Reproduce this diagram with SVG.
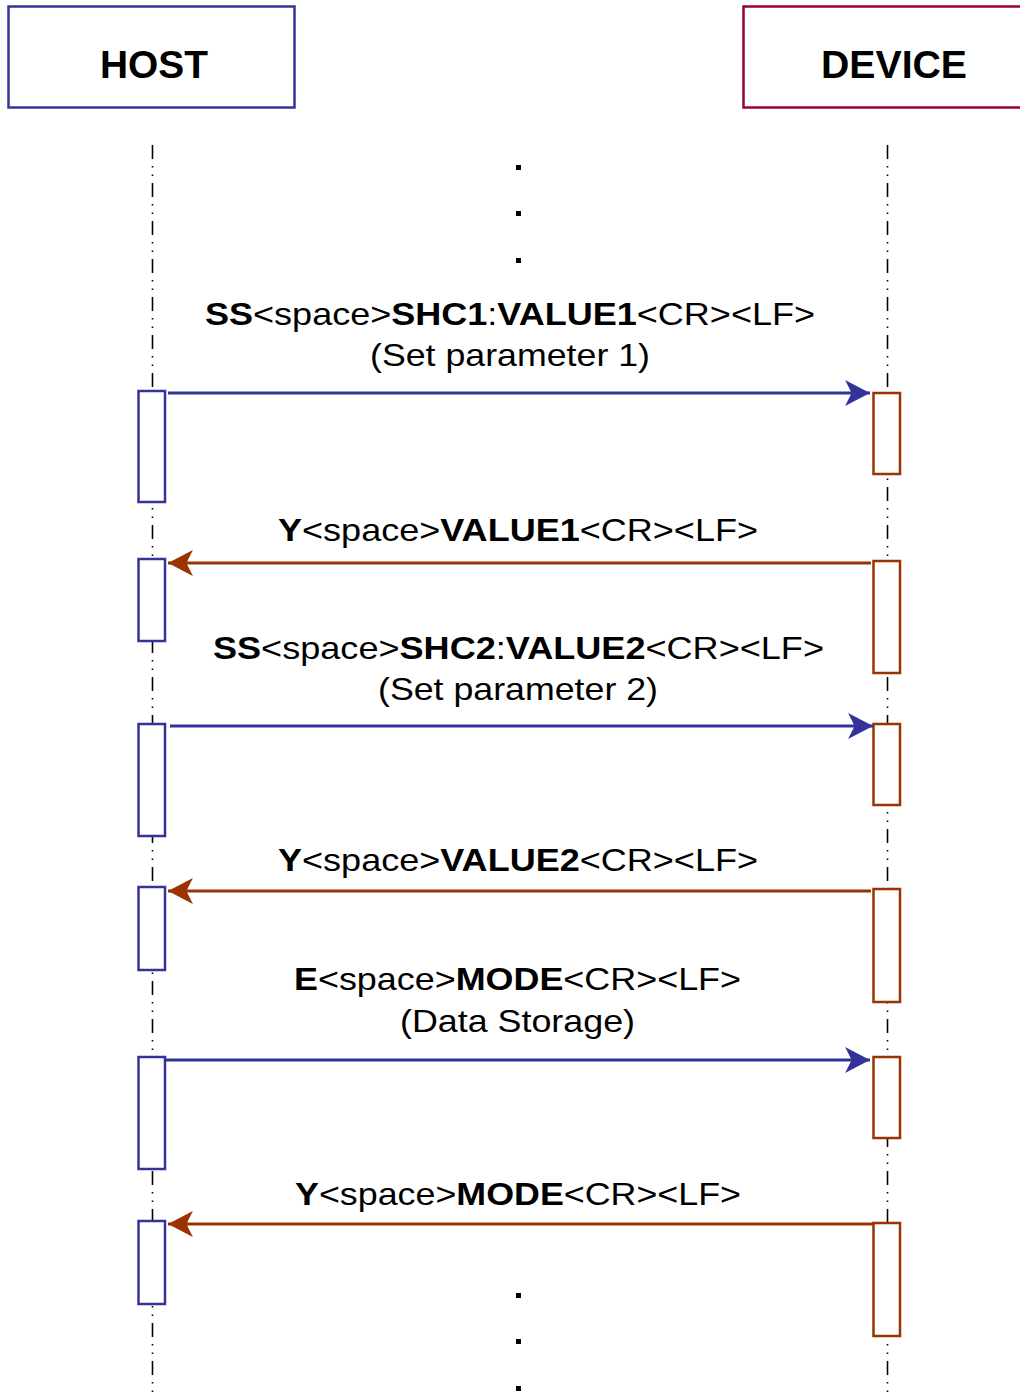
<svg xmlns="http://www.w3.org/2000/svg" width="1020" height="1398" viewBox="0 0 1020 1398">
<defs>
<style>
.hostbox{fill:#fff;stroke:#333399;stroke-width:2.5}
.devbox{fill:#fff;stroke:#990033;stroke-width:2.5}
.hact{fill:#fff;stroke:#333399;stroke-width:2.5}
.dact{fill:#fff;stroke:#993300;stroke-width:2.5}
.life{stroke:#000;stroke-width:1.6;stroke-dasharray:14 7 1.5 7 1.5 7;fill:none}
.req{stroke:#333399;stroke-width:3;fill:none}
.rsp{stroke:#993300;stroke-width:3;fill:none}
.title{font-family:"Liberation Sans",Arial,sans-serif;font-size:38px;font-weight:bold;text-anchor:middle;fill:#000}
.lbl{font-family:"Liberation Sans",Arial,sans-serif;font-size:32px;text-anchor:middle;fill:#000}
.b{font-weight:bold}
</style>
<marker id="ahB" markerUnits="userSpaceOnUse" markerWidth="26" markerHeight="26" viewBox="0 0 24 24" refX="23" refY="12" orient="auto">
<path d="M0,0 L23,12 L0,24 L6,12 Z" fill="#333399"/>
</marker>
<marker id="ahR" markerUnits="userSpaceOnUse" markerWidth="26" markerHeight="26" viewBox="0 0 24 24" refX="23" refY="12" orient="auto">
<path d="M0,0 L23,12 L0,24 L6,12 Z" fill="#993300"/>
</marker>
</defs>
<rect width="1020" height="1398" fill="#fff"/>

<g id="lifelines">
<line class="life" x1="152.5" y1="145" x2="152.5" y2="1398"/>
<line class="life" x1="887.5" y1="145" x2="887.5" y2="1392"/>
</g>

<g id="host">
<rect class="hostbox" x="8.5" y="6.5" width="286" height="101"/>
<text class="title" x="154" y="78" textLength="108" lengthAdjust="spacingAndGlyphs">HOST</text>
</g>
<g id="device">
<rect class="devbox" x="743.5" y="6.5" width="290" height="101"/>
<text class="title" x="894" y="78" textLength="146" lengthAdjust="spacingAndGlyphs">DEVICE</text>
</g>

<g id="host-activations">
<rect class="hact" x="138.5" y="391" width="26.5" height="111"/>
<rect class="hact" x="138.5" y="559" width="26.5" height="82"/>
<rect class="hact" x="138.5" y="724" width="26.5" height="112"/>
<rect class="hact" x="138.5" y="887" width="26.5" height="83"/>
<rect class="hact" x="138.5" y="1057" width="26.5" height="112"/>
<rect class="hact" x="138.5" y="1221" width="26.5" height="83"/>
</g>
<g id="device-activations">
<rect class="dact" x="873.5" y="393" width="26.5" height="81"/>
<rect class="dact" x="873.5" y="561" width="26.5" height="112"/>
<rect class="dact" x="873.5" y="724" width="26.5" height="81"/>
<rect class="dact" x="873.5" y="889" width="26.5" height="113"/>
<rect class="dact" x="873.5" y="1057" width="26.5" height="81"/>
<rect class="dact" x="873.5" y="1223" width="26.5" height="113"/>
</g>

<g id="connectors">
<line class="req" x1="168" y1="393" x2="870" y2="393" marker-end="url(#ahB)"/>
<line class="rsp" x1="871" y1="563" x2="168" y2="563" marker-end="url(#ahR)"/>
<line class="req" x1="170" y1="726" x2="873" y2="726" marker-end="url(#ahB)"/>
<line class="rsp" x1="871" y1="891" x2="168" y2="891" marker-end="url(#ahR)"/>
<line class="req" x1="165" y1="1060" x2="870" y2="1060" marker-end="url(#ahB)"/>
<line class="rsp" x1="873" y1="1224" x2="168" y2="1224" marker-end="url(#ahR)"/>
</g>

<g id="labels">
<text class="lbl" x="510" y="325" textLength="610" lengthAdjust="spacingAndGlyphs"><tspan class="b">SS</tspan>&lt;space&gt;<tspan class="b">SHC1</tspan>:<tspan class="b">VALUE1</tspan>&lt;CR&gt;&lt;LF&gt;</text>
<text class="lbl" x="510" y="366" textLength="280" lengthAdjust="spacingAndGlyphs">(Set parameter 1)</text>
<text class="lbl" x="518" y="541" textLength="480" lengthAdjust="spacingAndGlyphs"><tspan class="b">Y</tspan>&lt;space&gt;<tspan class="b">VALUE1</tspan>&lt;CR&gt;&lt;LF&gt;</text>
<text class="lbl" x="518.5" y="659" textLength="611" lengthAdjust="spacingAndGlyphs"><tspan class="b">SS</tspan>&lt;space&gt;<tspan class="b">SHC2</tspan>:<tspan class="b">VALUE2</tspan>&lt;CR&gt;&lt;LF&gt;</text>
<text class="lbl" x="518" y="700" textLength="280" lengthAdjust="spacingAndGlyphs">(Set parameter 2)</text>
<text class="lbl" x="518" y="871" textLength="480" lengthAdjust="spacingAndGlyphs"><tspan class="b">Y</tspan>&lt;space&gt;<tspan class="b">VALUE2</tspan>&lt;CR&gt;&lt;LF&gt;</text>
<text class="lbl" x="517.5" y="990" textLength="447" lengthAdjust="spacingAndGlyphs"><tspan class="b">E</tspan>&lt;space&gt;<tspan class="b">MODE</tspan>&lt;CR&gt;&lt;LF&gt;</text>
<text class="lbl" x="517.5" y="1032" textLength="235" lengthAdjust="spacingAndGlyphs">(Data Storage)</text>
<text class="lbl" x="518" y="1205" textLength="446" lengthAdjust="spacingAndGlyphs"><tspan class="b">Y</tspan>&lt;space&gt;<tspan class="b">MODE</tspan>&lt;CR&gt;&lt;LF&gt;</text>
</g>

<g id="ellipsis" fill="#000">
<rect x="516" y="165" width="5" height="5"/>
<rect x="516" y="211" width="5" height="5"/>
<rect x="516" y="258" width="5" height="5"/>
<rect x="516" y="1293" width="5" height="5"/>
<rect x="516" y="1339" width="5" height="5"/>
<rect x="516" y="1386" width="5" height="5"/>
</g>
</svg>
